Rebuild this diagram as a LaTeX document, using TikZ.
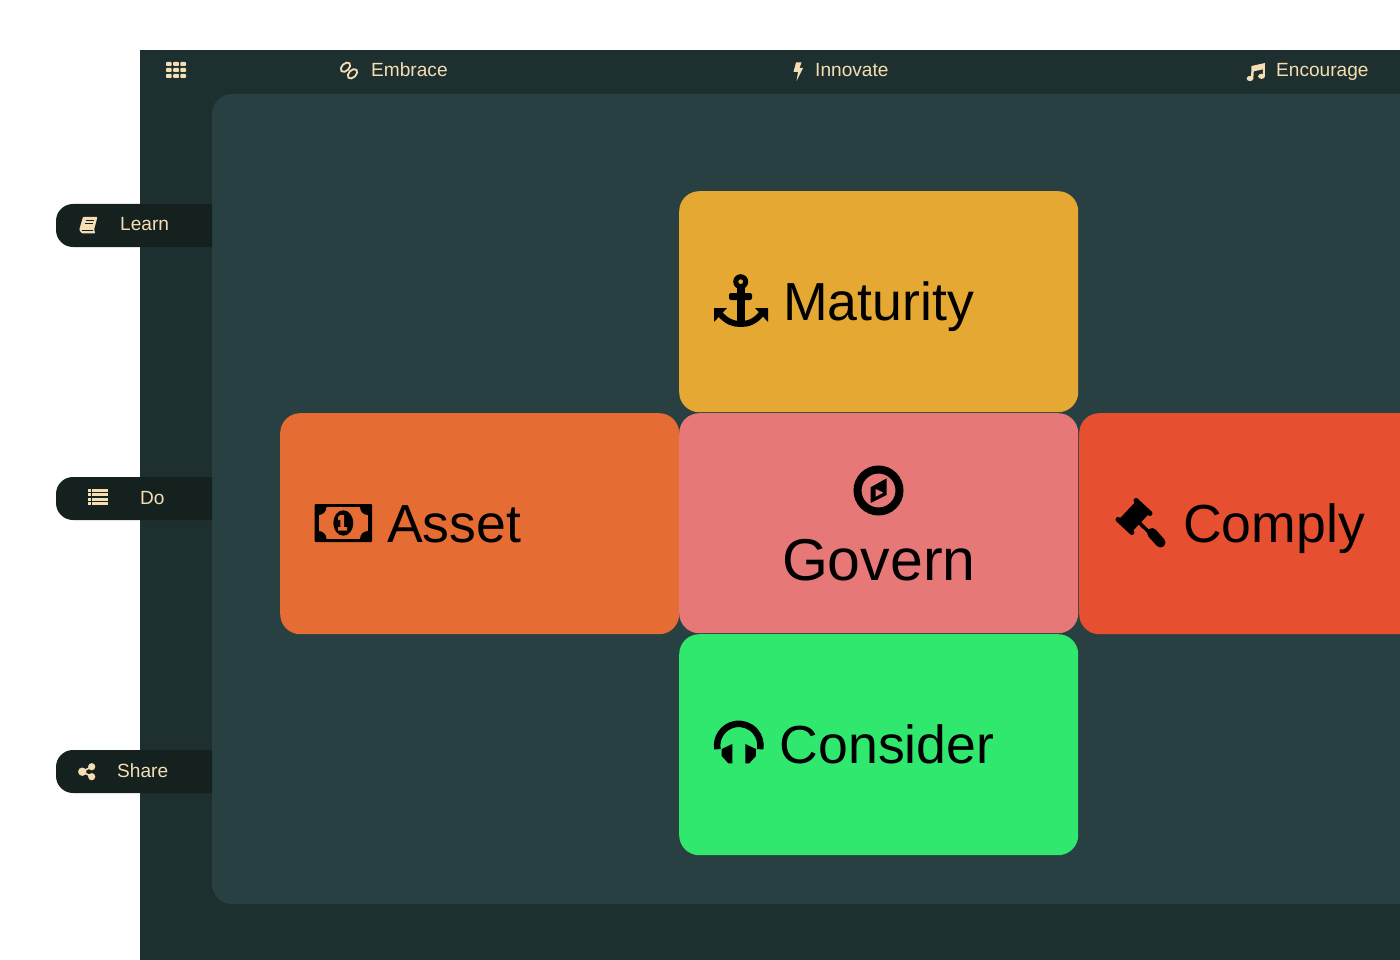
\documentclass[tikz,border=0pt]{standalone}
\usepackage{fontspec}
\setmainfont{Liberation Sans}
\definecolor{outerbg}{HTML}{1D2F2F}
\definecolor{innerbg}{HTML}{294043}
\definecolor{pillbg}{HTML}{14211F}
\definecolor{cream}{HTML}{F5DEB3}
\definecolor{maturitybg}{HTML}{E5A832}
\definecolor{assetbg}{HTML}{E56C33}
\definecolor{governbg}{HTML}{E67978}
\definecolor{complybg}{HTML}{E65031}
\definecolor{considerbg}{HTML}{30E86E}
\tikzset{
  tile/.style={anchor=north west, inner sep=0, minimum width=399pt, minimum height=221pt, rounded corners=20pt},
  bigtext/.style={anchor=base west, inner sep=0, text=black, font=\fontsize{53.6}{60}\selectfont},
  smalltext/.style={anchor=base west, inner sep=0, text=cream, font=\fontsize{19.1}{22}\selectfont},
  iconline/.style={draw=cream, line width=1.8pt},
}
\begin{document}
\begin{tikzpicture}[x=1pt, y=-1pt]
  \useasboundingbox (0,0) rectangle (1400,960);
  \fill[outerbg] (140,50) rectangle (1400,960);
  \fill[innerbg, rounded corners=20pt] (212,94) rectangle (1460,904);
  \foreach \y in {204,477,750}
    \fill[pillbg] (212,\y) [rounded corners=17pt] -- (56,\y) -- (56,\y+43) [sharp corners] -- (212,\y+43) -- cycle;

  \node[smalltext] (embrace) at (371,77) {Embrace};
  \node[smalltext] (innovate) at (815,77) {Innovate};
  \node[smalltext] (encourage) at (1276,77) {Encourage};
  \node[smalltext] (learn) at (120,231) {Learn};
  \node[smalltext] (do) at (140,504) {Do};
  \node[smalltext] (share) at (117,777) {Share};

  \node[tile, fill=maturitybg] (maturity) at (679,191) {};
  \node[tile, fill=assetbg] (asset) at (280,413) {};
  \node[tile, fill=governbg, minimum height=220pt] (govern) at (679,413) {};
  \node[tile, fill=complybg] (comply) at (1079,413) {};
  \node[tile, fill=considerbg] (consider) at (679,634) {};

  \node[bigtext] (maturitytext) at (783,320.5) {Maturity};
  \node[bigtext] (assettext) at (387,542.5) {Asset};
  \node[bigtext, anchor=base, font=\fontsize{59}{64}\selectfont] (governtext) at (878.8,580.5) {Govern};
  \node[bigtext] (complytext) at (1183,542.5) {Comply};
  \node[bigtext] (considertext) at (779.5,763.5) {Consider};

  \foreach \i in {0,1,2}
    \foreach \j in {0,1,2}
      \fill[cream, rounded corners=0.8pt] (166+7.2*\i,62+6*\j) rectangle ++(5.6,4);

  \draw[iconline] (345.5,67.2) circle[x radius=5.6, y radius=3.6, rotate=45];
  \draw[iconline] (352.5,73.8) circle[x radius=5.6, y radius=3.6, rotate=45];
  \fill[cream] (796,62.5) -- (801.5,62.5) -- (799.5,68) -- (803,68) -- (796.5,81) -- (798,72) -- (793.5,72) -- cycle;
  \fill[cream] (1250,78.5) circle[x radius=3.4, y radius=2.6];
  \fill[cream] (1261.5,76.3) circle[x radius=3.4, y radius=2.6];
  \fill[cream] (1251,78.5) -- (1251.5,66) -- (1265,63) -- (1264.8,76.3) -- (1262.8,76.3) -- (1263,69.3) -- (1253.8,71.3) -- (1253.3,78.5) -- cycle;

  \fill[cream, rounded corners=1pt] (83,216.8) -- (97.5,216.8) -- (94,230) -- (95.5,233.5) -- (82,233.5) -- (79.2,230) -- cycle;
  \draw[pillbg, line width=1pt] (85.5,221) -- (93.5,221) (84.5,224) -- (92.5,224) (81.5,230.3) -- (93,230.3);
  \foreach \y in {488.5,493,497.5,502} {
    \fill[cream] (88,\y) rectangle ++(2.5,3);
    \fill[cream] (92,\y) rectangle ++(16,3);
  }
  \draw[cream, line width=1.6pt] (91.7,766.7) -- (82.3,771.7) -- (91.7,776.7);
  \fill[cream] (82.3,771.7) circle[radius=4.2] (91.7,766.7) circle[radius=3.6] (91.7,776.7) circle[radius=3.6];

  \fill[black, even odd rule] (740.7,281.7) circle[radius=7.5] (740.7,281.7) circle[radius=2.5];
  \fill[black, rounded corners=2pt] (729,293) rectangle (752,300);
  \fill[black] (737,288) rectangle (744.5,325);
  \draw[black, line width=6pt] (719,313) .. controls (727,322) and (733,324) .. (740.7,324) .. controls (748,324) and (755,322) .. (762,313);
  \fill[black] (714,308) -- (727,308) -- (714,322) -- cycle;
  \fill[black] (768,308) -- (755,308) -- (768,322) -- cycle;

  \fill[black, rounded corners=1pt] (314.5,504) rectangle (372,542);
  \fill[assetbg] (318.5,507) rectangle (368,539);
  \begin{scope}
    \clip (318.5,507) rectangle (368,539);
    \fill[black] (318.5,507) circle[radius=8] (368,507) circle[radius=8] (318.5,539) circle[radius=8] (368,539) circle[radius=8];
  \end{scope}
  \fill[black] (343.3,523) circle[x radius=10, y radius=12.7];
  \fill[assetbg] (340.3,515) -- (344.2,515) -- (344.2,527) -- (347,527) -- (347,530.5) -- (338,530.5) -- (338,527) -- (340.3,527) -- (340.3,519.5) -- (338,520.5) -- (338,517) -- cycle;

  \draw[black, line width=8pt] (878.5,490.5) circle[radius=21];
  \fill[black] (886.7,478.3) -- (886.7,495) -- (870.7,503) -- (870.7,487.3) -- cycle;
  \fill[governbg] (875.7,489) -- (875.7,496.7) -- (883.3,492.7) -- cycle;

  \draw[black, line width=18pt] (1126,525) -- (1142,508);
  \draw[black, line width=5pt, line cap=round] (1118,519.5) -- (1132,532.5);
  \draw[black, line width=5pt, line cap=round] (1136,500.5) -- (1150,513.5);
  \draw[black, line width=3.5pt] (1133,516.7) -- (1152,535);
  \draw[black, line width=10pt, line cap=round] (1152,533) -- (1160.5,542.5);

  \draw[black, line width=6.5pt] (738.8,745.5) ++(170:21.7) arc[start angle=170, end angle=370, radius=21.7];
  \fill[black] (721.7,749) -- (732.3,744) -- (732.3,763.3) -- (728.3,763.3) -- (721.7,756) -- cycle;
  \fill[black] (755.9,749) -- (745.3,744) -- (745.3,763.3) -- (749.3,763.3) -- (755.9,756) -- cycle;
\end{tikzpicture}
\end{document}
